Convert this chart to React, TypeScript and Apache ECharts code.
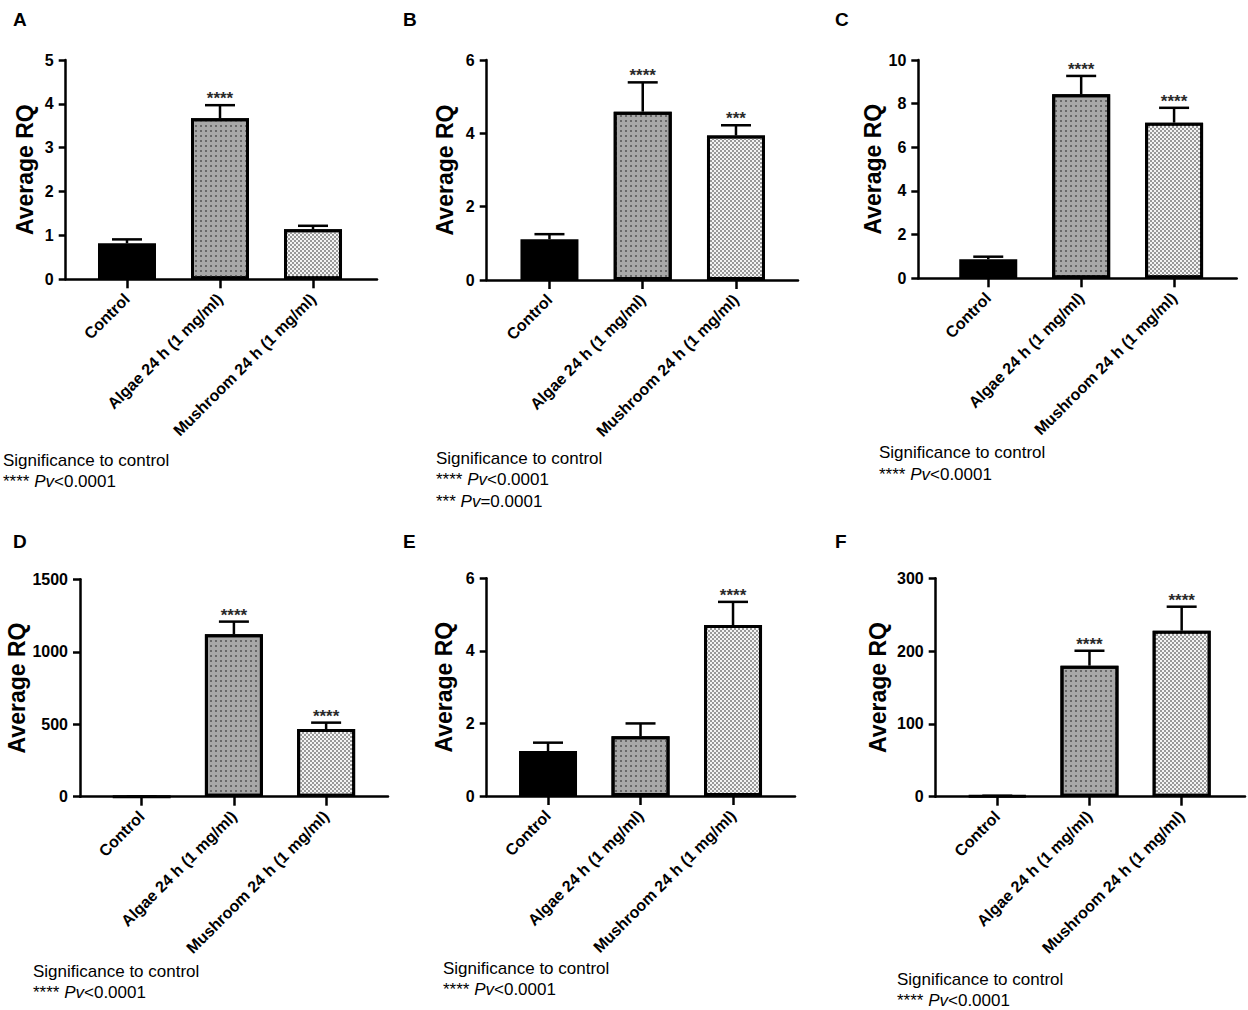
import React, { useEffect, useRef } from "react";
import * as echarts from "echarts";

const FONT = '"Liberation Sans", Arial, Helvetica, sans-serif';

const categories = ["Control", "Algae 24 h (1 mg/ml)", "Mushroom 24 h (1 mg/ml)"];

const meanA = [0.82, 3.67, 1.14];
const errA = [0.09, 0.3, 0.08];
const starsA = ["", "****", ""];
const ticksA = [0, 1, 2, 3, 4, 5];

const meanB = [1.11, 4.59, 3.94];
const errB = [0.14, 0.8, 0.28];
const starsB = ["", "****", "***"];
const ticksB = [0, 2, 4, 6];

const meanC = [0.87, 8.43, 7.13];
const errC = [0.12, 0.84, 0.68];
const starsC = ["", "****", "****"];
const ticksC = [0, 2, 4, 6, 8, 10];

const meanD = [0.5, 1121, 467];
const errD = [0.2, 87, 44];
const starsD = ["", "****", "****"];
const ticksD = [0, 500, 1000, 1500];

const meanE = [1.24, 1.65, 4.71];
const errE = [0.23, 0.35, 0.64];
const starsE = ["", "", "****"];
const ticksE = [0, 2, 4, 6];

const meanF = [1, 180, 228];
const errF = [0.3, 20.5, 33];
const starsF = ["", "****", "****"];
const ticksF = [0, 100, 200, 300];

const yTitle = "Average RQ";
const noteTitle = "Significance to control";
const notesA = [["****", "<0.0001"]];
const notesB = [["****", "<0.0001"], ["***", "=0.0001"]];
const notesC = [["****", "<0.0001"]];
const notesD = [["****", "<0.0001"]];
const notesE = [["****", "<0.0001"]];
const notesF = [["****", "<0.0001"]];

const panels = [
  { letter: "A", mean: meanA, err: errA, stars: starsA, ticks: ticksA, notes: notesA,
    grid: { left: 65.7, top: 60, width: 311.3, height: 219.3 }, xMin: -0.659, xMax: 2.688, nameGap: 29,
    letterPos: [13, 19], notePos: [3, 460] },
  { letter: "B", mean: meanB, err: errB, stars: starsB, ticks: ticksB, notes: notesB,
    grid: { left: 486.7, top: 60, width: 311.3, height: 220 }, xMin: -0.673, xMax: 2.665, nameGap: 30,
    letterPos: [403, 19], notePos: [436, 458] },
  { letter: "C", mean: meanC, err: errC, stars: starsC, ticks: ticksC, notes: notesC,
    grid: { left: 918.3, top: 60, width: 318.4, height: 218.3 }, xMin: -0.753, xMax: 2.674, nameGap: 28,
    letterPos: [835, 19], notePos: [879, 452.5] },
  { letter: "D", mean: meanD, err: errD, stars: starsD, ticks: ticksD, notes: notesD,
    grid: { left: 80, top: 579.3, width: 308, height: 217.4 }, xMin: -0.669, xMax: 2.671, nameGap: 45,
    letterPos: [13, 541], notePos: [33, 971] },
  { letter: "E", mean: meanE, err: errE, stars: starsE, ticks: ticksE, notes: notesE,
    grid: { left: 486.7, top: 578.3, width: 308.3, height: 217.7 }, xMin: -0.663, xMax: 2.67, nameGap: 31,
    letterPos: [403, 541], notePos: [443, 968] },
  { letter: "F", mean: meanF, err: errF, stars: starsF, ticks: ticksF, notes: notesF,
    grid: { left: 935.7, top: 578.3, width: 309.3, height: 218.4 }, xMin: -0.668, xMax: 2.687, nameGap: 46,
    letterPos: [835, 541], notePos: [897, 979] },
];

const barStyles: any[] = [
  { color: "#000000", borderColor: "#000", borderWidth: 3 },
  {
    color: "#a8a8a8",
    borderColor: "#000",
    borderWidth: 3,
    decal: { symbol: "rect", symbolSize: 1, dashArrayX: [1.3, 2.7], dashArrayY: [1.3, 2.7], color: "#686868" },
  },
  {
    color: "#f4f4f4",
    borderColor: "#000",
    borderWidth: 3,
    decal: { symbol: "rect", symbolSize: 1, dashArrayX: [[1.5, 1.5], [0, 1.5, 1.5, 0]], dashArrayY: [1.5, 0], color: "#999999" },
  },
];

function buildOption() {
  const grid: any[] = [];
  const xAxis: any[] = [];
  const yAxis: any[] = [];
  const series: any[] = [];
  const graphic: any[] = [];

  panels.forEach((p, i) => {
    grid.push({ ...p.grid, containLabel: false, outerBoundsMode: "none" });
    xAxis.push({
      type: "value",
      gridIndex: i,
      min: p.xMin,
      max: p.xMax,
      splitLine: { show: false },
      axisLine: { show: true, onZero: false, lineStyle: { color: "#000", width: 2.5 } },
      axisTick: { show: true, customValues: [0, 1, 2], length: 9, lineStyle: { color: "#000", width: 2.5 } },
      axisLabel: {
        show: true,
        customValues: [0, 1, 2],
        rotate: 45,
        margin: 17,
        formatter: (v: number) => categories[Math.round(v)] ?? "",
        fontFamily: FONT,
        fontWeight: "bold",
        fontSize: 16,
        color: "#000",
      },
    });
    const t = p.ticks;
    yAxis.push({
      type: "value",
      gridIndex: i,
      min: t[0],
      max: t[t.length - 1],
      interval: t[1] - t[0],
      name: yTitle,
      nameLocation: "middle",
      nameGap: p.nameGap,
      nameTextStyle: { fontFamily: FONT, fontWeight: "bold", fontSize: 23, color: "#000" },
      splitLine: { show: false },
      axisLine: { show: true, onZero: false, lineStyle: { color: "#000", width: 2.5 } },
      axisTick: { show: true, length: 7, lineStyle: { color: "#000", width: 2.5 } },
      axisLabel: {
        margin: 12,
        formatter: (v: number) => String(v),
        fontFamily: FONT,
        fontWeight: "bold",
        fontSize: 16,
        color: "#000",
      },
    });
    series.push({
      type: "bar",
      xAxisIndex: i,
      yAxisIndex: i,
      barWidth: 58,
      data: p.mean.map((v, k) => ({ value: [k, v], itemStyle: barStyles[k] })),
      z: 2,
    });
    const stars = p.stars;
    series.push({
      type: "custom",
      xAxisIndex: i,
      yAxisIndex: i,
      clip: false,
      z: 5,
      data: p.mean.map((v, k) => [k, v, p.err[k]]),
      renderItem: (params: any, api: any) => {
        const x = api.value(0);
        const y = api.value(1);
        const e = api.value(2);
        const p0 = api.coord([x, y]);
        const p1 = api.coord([x, y + e]);
        const ls = { stroke: "#000", lineWidth: 2.5 };
        const children: any[] = [
          { type: "line", shape: { x1: p0[0], y1: p0[1], x2: p1[0], y2: p1[1] }, style: ls },
          { type: "line", shape: { x1: p1[0] - 15, y1: p1[1], x2: p1[0] + 15, y2: p1[1] }, style: ls },
        ];
        const s = stars[params.dataIndex];
        if (s) {
          children.push({
            type: "text",
            x: p1[0],
            y: p1[1] + 2,
            style: { text: s, align: "center", verticalAlign: "bottom", font: `bold 17px ${FONT}`, fill: "#2a2a2a" },
          });
        }
        return { type: "group", children };
      },
    });

    graphic.push({
      type: "text",
      x: p.letterPos[0],
      y: p.letterPos[1],
      style: { text: p.letter, font: `bold 19px ${FONT}`, fill: "#000", verticalAlign: "middle" },
    });
    graphic.push({
      type: "text",
      x: p.notePos[0],
      y: p.notePos[1],
      style: { text: noteTitle, font: `17px ${FONT}`, fill: "#000", verticalAlign: "middle" },
    });
    p.notes.forEach((n, j) => {
      graphic.push({
        type: "text",
        x: p.notePos[0],
        y: p.notePos[1] + 21.5 * (j + 1),
        style: {
          text: `{n|${n[0]} }{i|Pv}{n|${n[1]}}`,
          verticalAlign: "middle",
          font: `17px ${FONT}`,
          fill: "#000",
          rich: {
            n: { fontFamily: FONT, fontSize: 17, color: "#000" },
            i: { fontFamily: FONT, fontSize: 17, fontStyle: "italic", color: "#000" },
          },
        },
      });
    });
  });

  return {
    animation: false,
    backgroundColor: "#ffffff",
    grid,
    xAxis,
    yAxis,
    series,
    graphic,
  };
}

export default function App() {
  const ref = useRef<HTMLDivElement>(null);
  useEffect(() => {
    if (!ref.current) return;
    const chart = echarts.init(ref.current, undefined, { renderer: "svg" });
    chart.setOption(buildOption());
    return () => chart.dispose();
  }, []);
  return (
    <div
      ref={ref}
      style={{ position: "absolute", left: 0, top: 0, width: 1248, height: 1010, background: "#fff" }}
    />
  );
}
